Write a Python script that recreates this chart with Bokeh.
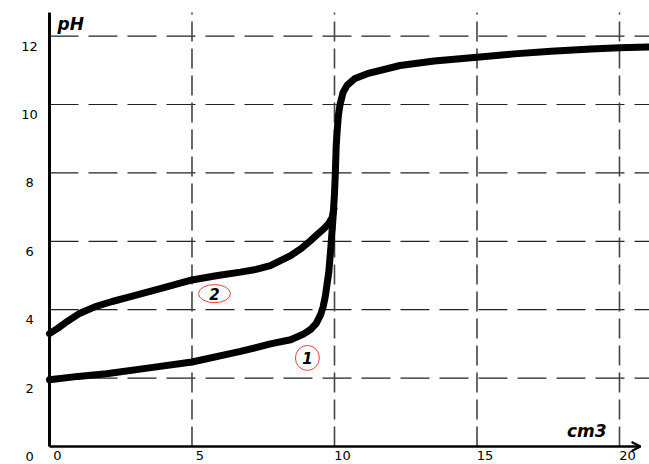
from bokeh.plotting import figure
from bokeh.models import Arrow, OpenHead
from bokeh.core.properties import value
from bokeh.embed import file_html
from bokeh.resources import INLINE

# ---------------- data ----------------
# curve 1 : strong acid titration
v1 = [0, 1, 2, 3.5, 5, 6.7, 7.75, 8.46, 8.9, 9.16, 9.36, 9.51, 9.6, 9.68, 9.8,
      9.88, 9.95, 10.0, 10.03, 10.06, 10.1, 10.14, 10.2, 10.3, 10.44, 10.7,
      11.15, 12.3, 13.5, 15, 16.3, 17.6, 19, 20, 21]
ph1 = [1.95, 2.05, 2.13, 2.3, 2.47, 2.78, 3.0, 3.12, 3.28, 3.42, 3.6, 3.85, 4.08,
       4.4, 5.1, 5.9, 6.7, 7.4, 8.0, 8.8, 9.3, 9.7, 10.02, 10.35, 10.56,
       10.75, 10.9, 11.14, 11.27, 11.38, 11.48, 11.56, 11.62, 11.66, 11.68]
# curve 2 : weak acid titration (joins curve 1 at the equivalence point)
v2 = [0, 0.3, 0.56, 1.03, 1.61, 2.2, 2.78, 3.95, 5, 5.9, 6.7, 7.25, 7.75, 8.46,
      8.85, 9.16, 9.4, 9.63, 9.8, 9.92, 9.98]
ph2 = [3.3, 3.46, 3.62, 3.88, 4.09, 4.24, 4.37, 4.63, 4.87, 5.0, 5.1, 5.18, 5.29,
       5.58, 5.8, 6.02, 6.2, 6.37, 6.52, 6.7, 6.95]

x_ticks = [0, 5, 10, 15, 20]
y_ticks = [0, 2, 4, 6, 8, 10, 12]
curve_names = ["1", "2"]
name_x = [9.05, 5.79]
name_y = [2.59, 4.47]

x_label = "cm3"
y_label = "pH"

# ---------------- layout constants ----------------
X_START, X_END = -1.719, 21.053
Y_START, Y_END = -0.526, 13.041
X_MAX = 20.74      # end of x axis arrow
Y_MAX = 12.69      # top of y axis / vertical grid lines

p = figure(width=649, height=464, output_backend="svg", toolbar_location=None,
           x_range=(X_START, X_END), y_range=(Y_START, Y_END), min_border=0,
           outline_line_color=None)
p.axis.visible = False
p.grid.visible = False
p.background_fill_color = "white"

# grid lines (dashed)
hy = [t for t in y_ticks if t > 0]
p.segment(x0=[0] * len(hy), y0=hy, x1=[X_END] * len(hy), y1=hy,
          line_color="#222222", line_width=1.2, line_dash="29 10")
vx = [t for t in x_ticks if t > 0]
p.segment(x0=vx, y0=[0] * len(vx), x1=vx, y1=[Y_MAX] * len(vx),
          line_color="#444444", line_width=1.6, line_dash="20 7")

# curves
p.line(v1, ph1, line_color="black", line_width=7, line_join="round", line_cap="round")
p.line(v2, ph2, line_color="black", line_width=7, line_join="round", line_cap="round")

# circled curve names
p.ellipse(x=name_x, y=name_y, width=[0.84, 1.12], height=[0.73, 0.53],
          fill_color=None, line_color="#e8403a", line_width=1)
p.text(x=name_x, y=name_y, text=curve_names, text_align="center",
       text_baseline="middle", text_font=value("DejaVu Sans"),
       text_font_style="bold italic", text_font_size="15px", text_color="black")

# axes
p.segment(x0=[0], y0=[0], x1=[0], y1=[Y_MAX], line_color="black", line_width=3)
p.add_layout(Arrow(end=OpenHead(size=9, line_width=2, line_color="black"),
                   x_start=0, y_start=0, x_end=X_MAX, y_end=0,
                   line_color="black", line_width=2.5))

# tick labels
p.text(x=[-0.70] * len(y_ticks), y=y_ticks, text=[str(t) for t in y_ticks],
       y_offset=10, text_align="center", text_baseline="middle",
       text_font=value("DejaVu Sans"), text_font_size="13px", text_color="black")
p.text(x=x_ticks, y=[0] * len(x_ticks), text=[str(t) for t in x_ticks],
       x_offset=8, y_offset=4, text_align="center", text_baseline="top",
       text_font=value("DejaVu Sans"), text_font_size="13px", text_color="black")

# axis titles
p.text(x=[0.28], y=[12.35], text=[y_label], text_align="left", text_baseline="middle",
       text_font=value("DejaVu Sans"), text_font_style="bold italic",
       text_font_size="17px", text_color="black", background_fill_color="white")
p.text(x=[19.55], y=[0.15], text=[x_label], text_align="right", text_baseline="bottom",
       text_font=value("DejaVu Sans"), text_font_style="bold italic",
       text_font_size="17px", text_color="black")

open("out.html", "w").write(file_html(p, INLINE))
